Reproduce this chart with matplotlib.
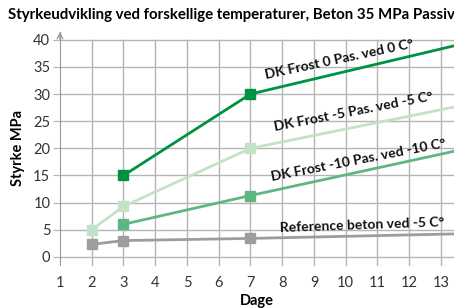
import numpy as np
import matplotlib.pyplot as plt

plt.rcParams['font.family'] = ['Lato', 'DejaVu Sans']

# data (dage, styrke MPa) - last point runs off the chart edge
dage_0 = [3, 7, 14]
styrke_0 = [15, 30, 39.7]
dage_5 = [2, 3, 7, 14]
styrke_5 = [5, 9.3, 20, 28.3]
dage_10 = [3, 7, 14]
styrke_10 = [6, 11.3, 20.2]
dage_ref = [2, 3, 7, 14]
styrke_ref = [2.3, 3.0, 3.4, 4.3]

labels = ['DK Frost 0 Pas. ved 0 C°', 'DK Frost -5 Pas. ved -5 C°',
          'DK Frost -10 Pas. ved -10 C°', 'Reference beton ved -5 C°']
x_ticks = list(range(1, 14))
y_ticks = list(range(0, 41, 5))

fig = plt.figure(figsize=(4.54, 3.08), dpi=100)
ax = fig.add_axes([60 / 454, 43 / 308, 1 - 60 / 454, (265 - 30) / 308])

grid_c = '#b4b4b4'
for x in x_ticks[1:]:
    ax.plot([x, x], [-1.5, 40], color=grid_c, lw=1, zorder=1, clip_on=False)
for y in y_ticks:
    ax.plot([1, 13.5], [y, y], color=grid_c, lw=1, zorder=1)

series = [
    (dage_ref, styrke_ref, '#9d9d9d'),
    (dage_10, styrke_10, '#5fb682'),
    (dage_5, styrke_5, '#c3e2c8'),
    (dage_0, styrke_0, '#00923f'),
]
for xs, ys, c in series:
    ax.plot(xs, ys, color=c, lw=2, zorder=3)
    ax.plot(xs[:-1], ys[:-1], 's', color=c, ms=7, zorder=4)

# labels along the lines
pos = [(9.8, 36.4, 12), (10.26, 26.7, 11), (10.39, 17.9, 11), (10.51, 5.9, 2)]
for (x, y, r), t in zip(pos, labels):
    ax.text(x, y, t, fontsize=10, fontweight='bold', ha='center', va='center',
            rotation=r, rotation_mode='anchor', zorder=5, color='#111111')

ax.set_xlim(1, 13.41)
ax.set_ylim(-1.5, 41.8)
for s in ['top', 'right', 'bottom']:
    ax.spines[s].set_visible(False)
ax.spines['left'].set_position(('data', 1))
ax.spines['left'].set_color('#999999')
ax.spines['left'].set_bounds(-1.5, 41.5)
ax.annotate('', xy=(1, 42), xytext=(1, 39.5),
            arrowprops=dict(arrowstyle='->', color='#999999', lw=1), annotation_clip=False)

ax.set_yticks(y_ticks)
ax.set_xticks(x_ticks)
ax.tick_params(axis='y', length=5, color=grid_c, labelsize=10.5, labelcolor='#333333', pad=2)
ax.tick_params(axis='x', length=0, labelsize=10.5, labelcolor='#333333', pad=8)

ax.set_xlabel('Dage', fontsize=10.5, fontweight='bold', labelpad=3)
ax.set_ylabel('Styrke MPa', fontsize=10.5, fontweight='bold', labelpad=6)
fig.text(8 / 454, 1 - 15 / 308, 'Styrkeudvikling ved forskellige temperaturer, Beton 35 MPa Passiv',
         fontsize=10.8, fontweight='bold', va='center', ha='left')

fig.savefig('out.png', dpi=100)
